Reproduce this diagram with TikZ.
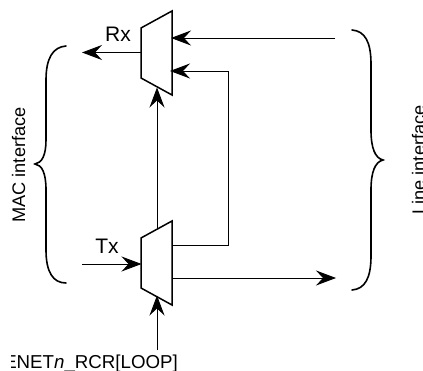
\documentclass[tikz,border=0pt]{standalone}
\usepackage{fontspec}
\setmainfont{Liberation Sans}
\usetikzlibrary{arrows.meta}
\tikzset{
  muxbox/.style={draw=black,line width=1.5pt,line join=miter,fill=white},
  conn/.style={draw=black,line width=0.9pt},
  arr/.style={conn,-{Stealth[length=20pt,width=15pt,inset=7pt]}},
  bracecurve/.style={draw=black,line width=1.6pt,line cap=round},
  biglabel/.style={inner sep=0pt,anchor=base,font=\fontsize{21}{24}\selectfont},
  sidelabel/.style={inner sep=0pt,anchor=base,rotate=90,font=\fontsize{18.2}{21}\selectfont},
  looplabel/.style={inner sep=0pt,anchor=base east,font=\fontsize{18.7}{22}\selectfont}
}
\begin{document}
\begin{tikzpicture}[x=1pt,y=-1pt]
\useasboundingbox (0,0) rectangle (423,371);
\clip (0,0) rectangle (423,371);
\fill[white] (0,0) rectangle (423,371);
% coordinates
\coordinate (rxTL) at (141,28);
\coordinate (rxTR) at (172,11);
\coordinate (rxBR) at (172,95);
\coordinate (rxBL) at (141,78);
\coordinate (txTL) at (141,238);
\coordinate (txTR) at (172,221);
\coordinate (txBR) at (172,305);
\coordinate (txBL) at (141,288);
\coordinate (rxOutEnd) at (82,52.5);
\coordinate (rxOut) at (141,52.5);
\coordinate (lineIn) at (335,38);
\coordinate (rxIn) at (171,38);
\coordinate (rxLoop) at (170,71);
\coordinate (loopTop) at (228,71);
\coordinate (loopBot) at (228,245);
\coordinate (txLoop) at (172,245);
\coordinate (txOut) at (172,278);
\coordinate (lineOut) at (336,278);
\coordinate (txStart) at (82,264);
\coordinate (txIn) at (141.5,264);
\coordinate (txUp) at (157,229.5);
\coordinate (rxBot) at (157,87.5);
\coordinate (selStart) at (157,350);
\coordinate (txBot) at (157,295.5);
% muxes
\draw[muxbox] (rxTL) -- (rxTR) -- (rxBR) -- (rxBL) -- cycle;
\draw[muxbox] (txTL) -- (txTR) -- (txBR) -- (txBL) -- cycle;
% connectors
\draw[arr] (txUp) -- (rxBot);
\draw[arr] (rxOut) -- (rxOutEnd);
\draw[arr] (lineIn) -- (rxIn);
\draw[arr] (txLoop) -- (loopBot) -- (loopTop) -- (rxLoop);
\draw[arr] (txOut) -- (lineOut);
\draw[arr] (txStart) -- (txIn);
\draw[arr] (selStart) -- (txBot);
% braces
\draw[bracecurve] (66,46) .. controls (53,47) and (46,58) .. (46,80)
  -- (46,140) .. controls (46,155) and (42,163) .. (35,164)
  .. controls (42,165) and (46,173) .. (46,190)
  -- (46,250) .. controls (46,272) and (53,283) .. (66,283);
\draw[bracecurve] (352,30) .. controls (365,31) and (371,42) .. (371,64)
  -- (371,130) .. controls (371,148) and (375,158) .. (383,160)
  .. controls (375,162) and (371,172) .. (371,190)
  -- (371,256) .. controls (371,278) and (365,289) .. (352,290);
% labels
\node[biglabel] (rxl) at (118,41.5) {Rx};
\node[biglabel] (txl) at (107,253.5) {Tx};
\node[sidelabel] (macl) at (25,165) {MAC interface};
\node[sidelabel] (linel) at (425,160) {Line interface};
\begin{scope}
\clip (11.5,300) rectangle (423,371);
\node[looplabel] (loopl) at (178,368) {ENET\textit{n}\_RCR[LOOP]};
\end{scope}
\end{tikzpicture}
\end{document}
